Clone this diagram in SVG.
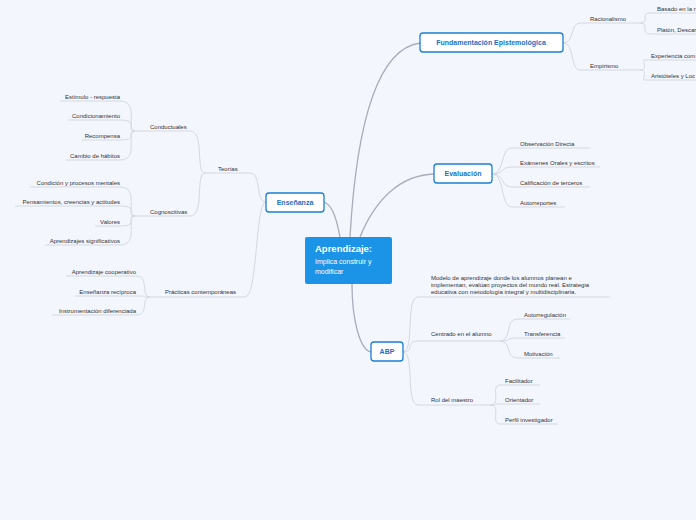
<svg xmlns="http://www.w3.org/2000/svg" width="696" height="520" viewBox="0 0 696 520">
<style>
.t{font-family:"Liberation Sans",Arial,sans-serif;font-size:6px;fill:#333}
.r{text-anchor:end}
.u{stroke:#d4d8e0;stroke-width:1;fill:none}
.m{stroke:#a9adb8;stroke-width:1.3;fill:none}
.box{fill:#fff;stroke:#1b7fd6;stroke-width:1.3}
.bt{font-family:"Liberation Sans",Arial,sans-serif;font-size:7px;font-weight:bold;fill:#1b6fc4;text-anchor:middle}
</style>
<rect width="696" height="520" fill="#f3f6fd"/>
<g id="connectors">
<path class="m" d="M350 237 C355 150 370 50 420 43"/>
<path class="m" d="M360 237 C375 200 400 175 434 174"/>
<path class="m" d="M340 237 C335 210 330 205 324 202"/>
<path class="m" d="M352 284 C352 320 360 350 371 352"/>
<!-- Fundamentacion -->
<path class="u" d="M563 43 C575 43 570 23 580 23 L640 23"/>
<path class="u" d="M563 43 C575 43 570 70 580 70 L640 70"/>
<path class="u" d="M640 23 C650 23 640 13 650 13 L696 13"/>
<path class="u" d="M640 23 C650 23 640 34 650 34 L696 34"/>
<path class="u" d="M640 70 C650 70 640 60 645 60 L696 60"/>
<path class="u" d="M640 70 C650 70 640 80 645 80 L696 80"/>
<!-- Evaluacion -->
<path class="u" d="M492 174 C505 174 500 148 512 148 L590 148"/>
<path class="u" d="M492 174 C505 174 500 167 512 167 L600 167"/>
<path class="u" d="M492 174 C505 174 500 187 512 187 L590 187"/>
<path class="u" d="M492 174 C505 174 500 207 512 207 L565 207"/>
<!-- ABP -->
<path class="u" d="M403 352 C415 352 405 297 418 297 L610 297"/>
<path class="u" d="M403 352 C415 352 405 341 418 341 L500 341"/>
<path class="u" d="M403 352 C415 352 405 405 418 405 L490 405"/>
<path class="u" d="M500 341 C512 341 505 319 517 319 L570 319"/>
<path class="u" d="M500 341 C512 341 505 338 517 338 L565 338"/>
<path class="u" d="M500 341 C512 341 505 358 517 358 L560 358"/>
<path class="u" d="M490 405 C502 405 490 385 500 385 L540 385"/>
<path class="u" d="M490 405 C502 405 490 404 500 404 L540 404"/>
<path class="u" d="M490 405 C502 405 490 424 500 424 L558 424"/>
<!-- Ensenanza -->
<path class="u" d="M266 202 C255 202 262 173 250 173 L205 173"/>
<path class="u" d="M266 202 C255 202 258 297 245 297 L150 297"/>
<path class="u" d="M205 173 C195 173 205 131 190 131 L135 131"/>
<path class="u" d="M205 173 C195 173 205 216 190 216 L135 216"/>
<path class="u" d="M135 131 C125 131 140 101 120 101 L60 101"/>
<path class="u" d="M135 131 C125 131 140 120 120 120 L68 120"/>
<path class="u" d="M135 131 C125 131 140 140 120 140 L82 140"/>
<path class="u" d="M135 131 C125 131 140 160 120 160 L66 160"/>
<path class="u" d="M135 216 C125 216 140 187 120 187 L30 187"/>
<path class="u" d="M135 216 C125 216 140 206 120 206 L15 206"/>
<path class="u" d="M135 216 C125 216 140 226 120 226 L95 226"/>
<path class="u" d="M135 216 C125 216 140 245 120 245 L45 245"/>
<path class="u" d="M150 297 C140 297 150 276 136 276 L66 276"/>
<path class="u" d="M150 297 C140 297 150 296 136 296 L75 296"/>
<path class="u" d="M150 297 C140 297 150 315 136 315 L52 315"/>
</g>
<g id="center">
<rect x="305" y="237" width="87" height="47" rx="2" fill="#1b93e6"/>
<text x="315" y="252" font-family="Liberation Sans,Arial,sans-serif" font-size="9.5" font-weight="bold" fill="#fff">Aprendizaje:</text>
<text x="315" y="264" font-family="Liberation Sans,Arial,sans-serif" font-size="7" fill="#fff">Implica construir y</text>
<text x="315" y="274" font-family="Liberation Sans,Arial,sans-serif" font-size="7" fill="#fff">modificar</text>
</g>
<g id="fundamentacion">
<rect class="box" x="420" y="33" width="143" height="19" rx="3"/>
<text class="bt" x="491" y="45">Fundamentación Epistemológica</text>
<text class="t" x="590" y="21">Racionalismo</text>
<text class="t" x="657" y="11">Basado en la r</text>
<text class="t" x="657" y="32">Platón, Descar</text>
<text class="t" x="590" y="68">Empirismo</text>
<text class="t" x="651" y="58">Experiencia com</text>
<text class="t" x="651" y="78">Aristóteles y Loc</text>
</g>
<g id="evaluacion">
<rect class="box" x="434" y="164" width="58" height="19" rx="3"/>
<text class="bt" x="463" y="176">Evaluación</text>
<text class="t" x="520" y="146">Observación Directa</text>
<text class="t" x="520" y="165">Exámenes Orales y escritos</text>
<text class="t" x="520" y="185">Calificación de terceros</text>
<text class="t" x="520" y="205">Autorreportes</text>
</g>
<g id="abp">
<rect class="box" x="371" y="342" width="32" height="19" rx="3"/>
<text class="bt" x="387" y="354">ABP</text>
<text class="t" x="431" y="280">Modelo de aprendizaje donde los alumnos planean e</text>
<text class="t" x="431" y="287">implementan, evalúan proyectos del mundo real. Estrategia</text>
<text class="t" x="431" y="294">educativa con metodología integral y multidisciplinaria.</text>
<text class="t" x="431" y="336">Centrado en el alumno</text>
<text class="t" x="524" y="317">Autorregulación</text>
<text class="t" x="524" y="336">Transferencia</text>
<text class="t" x="524" y="356">Motivación</text>
<text class="t" x="431" y="402">Rol del maestro</text>
<text class="t" x="505" y="383">Facilitador</text>
<text class="t" x="505" y="402">Orientador</text>
<text class="t" x="505" y="422">Perfil investigador</text>
</g>
<g id="ensenanza">
<rect class="box" x="266" y="193" width="58" height="19" rx="3"/>
<text class="bt" x="295" y="205">Enseñanza</text>
<text class="t" x="218" y="171">Teorías</text>
<text class="t" x="150" y="129">Conductuales</text>
<text class="t r" x="120" y="99">Estímulo - respuesta</text>
<text class="t r" x="120" y="118">Condicionamiento</text>
<text class="t r" x="120" y="138">Recompensa</text>
<text class="t r" x="120" y="158">Cambio de hábitos</text>
<text class="t" x="150" y="214">Cognoscitivas</text>
<text class="t r" x="120" y="185">Condición y procesos mentales</text>
<text class="t r" x="120" y="204">Pensamientos, creencias y actitudes</text>
<text class="t r" x="120" y="224">Valores</text>
<text class="t r" x="120" y="243">Aprendizajes significativos</text>
<text class="t" x="165" y="294">Prácticas contemporáneas</text>
<text class="t r" x="136" y="274">Aprendizaje cooperativo</text>
<text class="t r" x="136" y="294">Enseñanza recíproca</text>
<text class="t r" x="136" y="313">Instrumentación diferenciada</text>
</g>
</svg>
